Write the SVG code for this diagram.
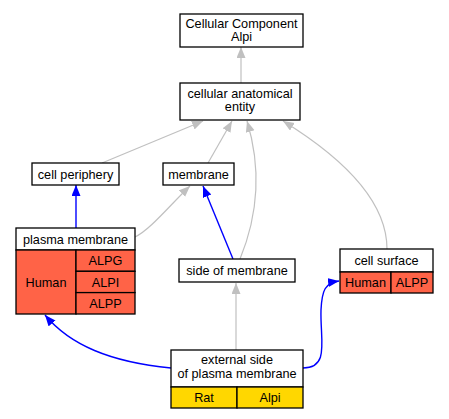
<svg xmlns="http://www.w3.org/2000/svg" width="449" height="419" viewBox="0 0 449 419">
<style>
text{font-family:"Liberation Sans",Arial,sans-serif;font-size:12.7px;fill:#000;text-anchor:middle}
.box{fill:#fff;stroke:#000;stroke-width:1.3}
.red{fill:#ff6347;stroke:#000;stroke-width:1.3}
.yel{fill:#ffd700;stroke:#000;stroke-width:1.3}
.g{fill:none;stroke:#c0c0c0;stroke-width:1.2}
.b{fill:none;stroke:#0000ff;stroke-width:1.4}
</style>
<defs>
<marker id="ag" markerUnits="userSpaceOnUse" markerWidth="12" markerHeight="10" refX="11" refY="4.5" orient="auto"><path d="M0,0 L11,4.5 L0,9 Z" fill="#c0c0c0"/></marker>
<marker id="ab" markerUnits="userSpaceOnUse" markerWidth="12" markerHeight="10" refX="11" refY="4.5" orient="auto"><path d="M0,0 L11,4.5 L0,9 Z" fill="#0000ff"/></marker>
</defs>
<rect width="449" height="419" fill="#fff"/>
<g id="connectors">
<path class="g" marker-end="url(#ag)" d="M241,83 L241,47"/>
<path class="g" marker-end="url(#ag)" d="M102,163 L203,121"/>
<path class="g" marker-end="url(#ag)" d="M208,163 L232,121"/>
<path class="g" marker-end="url(#ag)" d="M240,259 C258,215 262,170 247,121"/>
<path class="g" marker-end="url(#ag)" d="M387,249 C387,195 330,150 283,121"/>
<path class="g" marker-end="url(#ag)" d="M135,237 C150,230 170,205 190,186"/>
<path class="b" marker-end="url(#ab)" d="M76,228 L76,185"/>
<path class="b" marker-end="url(#ab)" d="M233,259 L203,186"/>
<path class="g" marker-end="url(#ag)" d="M236,350 L236,283"/>
<path class="b" marker-end="url(#ab)" d="M171,368 C110,362 70,345 45,315"/>
<path class="b" marker-end="url(#ab)" d="M303,368 C330,368 320,340 321,310 C322,290 325,283 339,281"/>
</g>
<g id="cc">
<rect class="box" x="180" y="14" width="123" height="33"/>
<text x="241.5" y="27.5">Cellular Component</text>
<text x="241.5" y="41">Alpi</text>
</g>
<g id="cae">
<rect class="box" x="180" y="83" width="120" height="37"/>
<text x="240" y="97.5">cellular anatomical</text>
<text x="240" y="111">entity</text>
</g>
<g id="cellperiphery">
<rect class="box" x="32" y="163" width="87" height="22"/>
<text x="75.5" y="178.5">cell periphery</text>
</g>
<g id="membrane">
<rect class="box" x="163" y="163" width="71" height="22"/>
<text x="198.5" y="178.5">membrane</text>
</g>
<g id="plasmamembrane">
<rect class="box" x="16" y="228" width="119" height="22"/>
<rect class="red" x="16" y="250" width="60" height="64"/>
<rect class="red" x="76" y="250" width="59" height="21.3"/>
<rect class="red" x="76" y="271.3" width="59" height="21.3"/>
<rect class="red" x="76" y="292.6" width="59" height="21.4"/>
<text x="75.5" y="243.5">plasma membrane</text>
<text x="46" y="286.5">Human</text>
<text x="105.5" y="265">ALPG</text>
<text x="105.5" y="286.5">ALPI</text>
<text x="105.5" y="308">ALPP</text>
</g>
<g id="sideofmembrane">
<rect class="box" x="179" y="259" width="116" height="23"/>
<text x="237" y="275">side of membrane</text>
</g>
<g id="cellsurface">
<rect class="box" x="340" y="249" width="93" height="23"/>
<rect class="red" x="340" y="272" width="51" height="21"/>
<rect class="red" x="391" y="272" width="42" height="21"/>
<text x="386.5" y="264.5">cell surface</text>
<text x="365.5" y="287">Human</text>
<text x="412" y="287">ALPP</text>
</g>
<g id="externalside">
<rect class="box" x="171" y="350" width="132" height="37"/>
<rect class="yel" x="171" y="387" width="66" height="21"/>
<rect class="yel" x="237" y="387" width="66" height="21"/>
<text x="237" y="364">external side</text>
<text x="237" y="378">of plasma membrane</text>
<text x="204" y="402">Rat</text>
<text x="270" y="402">Alpi</text>
</g>
</svg>
